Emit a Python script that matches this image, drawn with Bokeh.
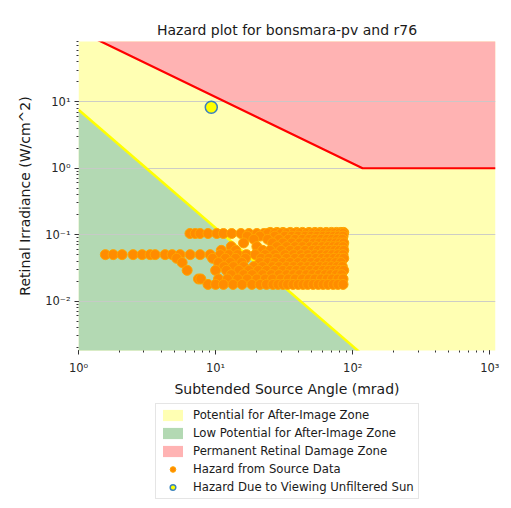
from bokeh.plotting import figure
from bokeh.layouts import column
from bokeh.models import (Legend, LegendItem, CustomJSTickFormatter, LogTicker,
                          Range1d)
from bokeh.embed import file_html
from bokeh.resources import INLINE

# ---------------- data ----------------
title_text = "Hazard plot for bonsmara-pv and r76"
x_label = "Subtended Source Angle (mrad)"
y_label = "Retinal Irradiance (W/cm^2)"

# zone boundaries (straight lines on log-log axes)
zone_x = [1, 1100]
afterimage_y = [7.6, 2.93e-5]          # after-image threshold line
burn_x = [1, 118, 1100]
burn_y = [118, 1, 1]                   # permanent retinal damage threshold
floor_y = [1e-6, 1e-6]
ceil_y = [1e4, 1e4]
ceil3_y = [1e4, 1e4, 1e4]

# unfiltered sun
sun_x = [9.3]
sun_y = [8.3]

# hazard from source data, read row by row (irradiance -> angles)
row_y = [0.108, 0.104, 0.095, 0.085, 0.075, 0.066, 0.058, 0.050,
         0.044, 0.038, 0.033, 0.029, 0.025, 0.0215, 0.0178]
row_x = [
    [25, 28, 31, 35, 39, 43, 48, 53, 58, 64, 70, 76, 82, 86],
    [6.5, 7.1, 7.7, 8.8, 10.2, 11.4, 13.1, 15.3, 17.5, 20, 22.5, 24, 27, 30,
     33, 37, 41, 46, 51, 56, 62, 68, 74, 80, 85],
    [17, 21, 27, 32, 36, 40, 45, 50, 55, 61, 67, 73, 79, 85],
    [19, 24, 29, 34, 38, 43, 48, 53, 59, 65, 71, 77, 84],
    [16, 26, 31, 36, 41, 46, 52, 57, 63, 69, 75, 81, 86],
    [13, 20, 28, 33, 38, 43, 49, 54, 60, 66, 72, 78, 85],
    [11, 14, 22, 25, 30, 35, 40, 45, 51, 56, 62, 68, 74, 80, 86],
    [1.57, 1.79, 2.08, 2.5, 2.91, 3.33, 3.62, 4.28, 4.82, 5.51, 6.52, 7.71,
     9.12, 10.8, 12.5, 14.5, 16.8, 19.5, 23, 27, 32, 37, 42, 47, 53, 59, 65,
     71, 78, 85],
    [5.2, 9.5, 11.8, 14, 16.5, 21.5, 24.5, 28, 33, 38, 43, 48, 54, 60, 66,
     73, 80, 86],
    [5.7, 10.5, 12.8, 15.5, 21, 24, 27, 31, 35, 40, 45, 50, 56, 62, 68, 75,
     82],
    [11.5, 13.5, 16, 19, 22, 26, 29, 33, 37, 42, 47, 52, 58, 64, 70, 77, 84],
    [6.2, 10, 12, 14.8, 17.5, 20.5, 23.5, 27, 31, 35, 39, 44, 49, 55, 61, 67,
     73, 80, 86],
    [13, 16, 18.5, 22, 25.5, 29, 33, 37, 41, 46, 51, 57, 63, 69, 76, 83],
    [7.5, 7.8, 10.5, 12.2, 14.5, 17, 20, 23, 26, 30, 34, 38, 43, 48, 53, 59,
     65, 71, 78, 85],
    [8.8, 10, 11.4, 13.4, 15.6, 18.4, 21.1, 23.5, 26.2, 28.5, 31, 33.5, 36.7,
     40, 43.4, 47, 51.4, 56, 60.8, 66, 72, 78, 85],
]

legend_labels = ["Potential for After-Image Zone",
                 "Low Potential for After-Image Zone",
                 "Permanent Retinal Damage Zone",
                 "Hazard from Source Data",
                 "Hazard Due to Viewing Unfiltered Sun"]

# ---------------- styles ----------------
FONT = "DejaVu Sans"
YELLOW_ZONE = "#ffffb3"
GREEN_ZONE = "#b3d9b3"
RED_ZONE = "#ffb3b3"
PT_FILL, PT_LINE = "#ff8c00", "#ffa500"
SUN_FILL, SUN_LINE = "#ffff00", "#3b82bd"

# ---------------- main figure ----------------
p = figure(frame_width=417, frame_height=309, x_axis_type="log",
           y_axis_type="log",
           x_range=Range1d(1, 1100), y_range=Range1d(0.0018, 81),
           output_backend="svg", toolbar_location=None,
           min_border_left=78, min_border_right=16,
           min_border_top=41, min_border_bottom=52)
p.outline_line_color = None
p.background_fill_color = "white"

p.title.text = title_text
p.title.align = "center"
p.title.text_font = FONT
p.title.text_font_size = "14px"
p.title.text_font_style = "normal"
p.title.text_color = "#1a1a1a"
p.title.standoff = 8

src_pts_x = [x for xs in row_x for x in xs]
src_pts_y = [y for y, xs in zip(row_y, row_x) for _ in xs]

p.varea(x=zone_x, y1=floor_y, y2=ceil_y, fill_color=YELLOW_ZONE, level="image")
p.varea(x=zone_x, y1=floor_y, y2=afterimage_y, fill_color=GREEN_ZONE,
        level="image")
p.varea(x=burn_x, y1=burn_y, y2=ceil3_y, fill_color=RED_ZONE, level="image")

p.line(zone_x, afterimage_y, line_color="#ffff00", line_width=2.5)
p.line(burn_x, burn_y, line_color="#ff0000", line_width=2.2)

p.scatter(x=src_pts_x, y=src_pts_y, size=10, fill_color=PT_FILL,
          line_color=PT_LINE, line_width=1)
p.scatter(x=sun_x, y=sun_y, size=12, fill_color=SUN_FILL,
          line_color=SUN_LINE, line_width=1.5)

fmt = CustomJSTickFormatter(code="""
const sup = {"-":"\u207b","0":"\u2070","1":"\u00b9","2":"\u00b2","3":"\u00b3",
             "4":"\u2074","5":"\u2075","6":"\u2076","7":"\u2077","8":"\u2078","9":"\u2079"};
const e = Math.round(Math.log10(tick));
return "10" + String(e).split("").map(c => sup[c]).join("");
""")
for ax, lab in ((p.xaxis[0], x_label), (p.yaxis[0], y_label)):
    ax.ticker = LogTicker(desired_num_ticks=4, num_minor_ticks=10)
    ax.formatter = fmt
    ax.axis_label = lab
    ax.axis_label_text_font = FONT
    ax.axis_label_text_font_size = "14px"
    ax.axis_label_text_font_style = "normal"
    ax.axis_label_text_color = "#1a1a1a"
    ax.major_label_text_font = FONT
    ax.major_label_text_font_size = "11.5px"
    ax.major_label_text_color = "#262626"
    ax.axis_line_color = None
    ax.major_tick_line_color = "#333333"
    ax.minor_tick_line_color = "#333333"
    ax.major_tick_out = 4
    ax.major_tick_in = 0
    ax.minor_tick_out = 2
    ax.minor_tick_in = 0
p.xaxis[0].major_label_standoff = 6
p.xaxis[0].axis_label_standoff = 3
p.yaxis[0].major_label_standoff = 4
p.yaxis[0].axis_label_standoff = 9

p.xgrid.visible = False
p.ygrid.grid_line_color = "#c8c8c8"
p.ygrid.grid_line_alpha = 0.9
p.ygrid.grid_line_width = 1
p.ygrid.minor_grid_line_color = None

# ---------------- legend strip ----------------
lg = figure(width=511, height=106, x_range=Range1d(0, 1), y_range=Range1d(0, 1),
            x_axis_location=None, y_axis_location=None,
            output_backend="svg", toolbar_location=None, min_border=0)
lg.grid.visible = False
lg.outline_line_color = None
off = [5, 6]
r1 = lg.varea(x=off, y1=off, y2=[7, 7], fill_color=YELLOW_ZONE)
r2 = lg.varea(x=off, y1=off, y2=[7, 7], fill_color=GREEN_ZONE)
r3 = lg.varea(x=off, y1=off, y2=[7, 7], fill_color=RED_ZONE)
r4 = lg.scatter(x=[5], y=[5], size=8, fill_color=PT_FILL, line_color=PT_LINE)
r5 = lg.scatter(x=[5], y=[5], size=10, fill_color=SUN_FILL,
                line_color=SUN_LINE, line_width=1.5)

legend = Legend(items=[
    LegendItem(label=legend_labels[0], renderers=[r1]),
    LegendItem(label=legend_labels[1], renderers=[r2]),
    LegendItem(label=legend_labels[2], renderers=[r3]),
    LegendItem(label=legend_labels[3], renderers=[r4]),
    LegendItem(label=legend_labels[4], renderers=[r5]),
], location=(77, 9), orientation="vertical")
legend.label_text_font = FONT
legend.label_text_font_size = "11.7px"
legend.label_text_color = "#1a1a1a"
legend.border_line_color = "#cccccc"
legend.border_line_width = 1
legend.background_fill_color = "white"
legend.background_fill_alpha = 1
legend.padding = 4
legend.spacing = 4
legend.glyph_height = 14
legend.glyph_width = 25
legend.label_height = 14
legend.label_standoff = 8
legend.margin = 0
lg.add_layout(legend, "center")

layout = column(p, lg, spacing=0)
open("out.html", "w").write(file_html(layout, INLINE))
